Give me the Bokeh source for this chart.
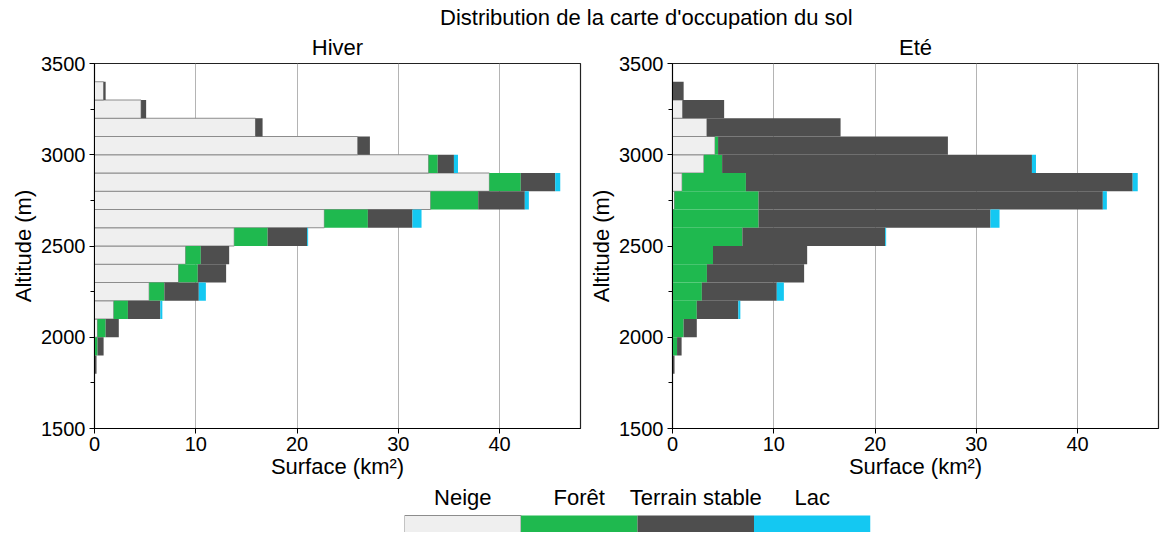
from bokeh.plotting import figure
from bokeh.layouts import column, row
from bokeh.models import Range1d, FactorRange, FixedTicker, ColumnDataSource, Label
from bokeh.embed import file_html
from bokeh.resources import INLINE
from bokeh.core.properties import value

FONT = "Liberation Sans"

# ---- data ----
altitude_bins = [1700, 1800, 1900, 2000, 2100, 2200, 2300, 2400, 2500,
                 2600, 2700, 2800, 2900, 3000, 3100, 3200, 3300]
bin_size = 100

classes = ["Neige", "Forêt", "Terrain stable", "Lac"]
class_colors = ["#efefef", "#1fb94f", "#4e4e4e", "#14c8f2"]
neige_edge = "#8c8c8c"

hiver_neige   = [0, 0, 0, 0.3, 1.9, 5.4, 8.3, 9.0, 13.8, 22.7, 33.2, 39.0, 33.0, 26.0, 15.9, 4.6, 0.9]
hiver_foret   = [0, 0, 0.3, 0.8, 1.4, 1.5, 1.9, 1.5, 3.3, 4.3, 4.7, 3.1, 0.9, 0, 0, 0, 0]
hiver_terrain = [0.05, 0.2, 0.6, 1.3, 3.2, 3.4, 2.8, 2.8, 3.9, 4.4, 4.6, 3.4, 1.6, 1.2, 0.7, 0.5, 0.2]
hiver_lac     = [0, 0, 0, 0, 0.2, 0.7, 0, 0, 0.1, 0.9, 0.4, 0.5, 0.4, 0, 0, 0, 0]

ete_neige   = [0, 0, 0, 0, 0, 0, 0, 0, 0, 0, 0.2, 0.95, 3.1, 4.2, 3.4, 1.0, 0]
ete_foret   = [0, 0, 0.45, 1.1, 2.4, 2.9, 3.4, 4.0, 6.9, 8.5, 8.3, 6.3, 1.8, 0.3, 0, 0, 0]
ete_terrain = [0.05, 0.2, 0.45, 1.3, 4.1, 7.4, 9.6, 9.3, 14.1, 22.9, 34.0, 38.2, 30.6, 22.7, 13.2, 4.1, 1.1]
ete_lac     = [0, 0, 0, 0, 0.2, 0.7, 0, 0, 0.1, 0.9, 0.4, 0.5, 0.4, 0, 0, 0, 0]

x_ticks = [0, 10, 20, 30, 40]
y_ticks = [1500, 2000, 2500, 3000, 3500]
y_minor_ticks = [1750, 2250, 2750, 3250]
x_max = 48
y_min, y_max = 1500, 3500

suptitle = "Distribution de la carte d'occupation du sol"

FRAME_H = 364
TITLE_PANEL = 35
BORDER_BOTTOM = 54


def make_panel(title, neige, foret, terrain, lac, width, bl, br):
    src = ColumnDataSource(dict(
        alt=[a + bin_size / 2 for a in altitude_bins],
        neige=neige, foret=foret, terrain=terrain, lac=lac))
    p = figure(width=width, height=TITLE_PANEL + FRAME_H + BORDER_BOTTOM,
               x_range=Range1d(0, x_max),
               y_range=Range1d(y_min, y_max), toolbar_location=None,
               output_backend="svg", min_border_left=bl, min_border_right=br,
               min_border_top=10, min_border_bottom=BORDER_BOTTOM)
    p.hbar_stack(["neige", "foret", "terrain", "lac"], y="alt", height=bin_size,
                 source=src, fill_color=class_colors,
                 line_color=[neige_edge, None, None, None], line_width=1)
    p.title.text = title
    p.title.align = "center"
    p.title.text_font = FONT
    p.title.text_font_size = "22px"
    p.title.text_font_style = "normal"
    p.title.text_color = "black"
    p.title.standoff = 7
    p.outline_line_color = "#222222"
    p.outline_line_width = 1.2
    p.ygrid.grid_line_color = None
    p.xgrid.ticker = FixedTicker(ticks=x_ticks)
    p.xgrid.grid_line_color = "#b4b4b4"
    p.xgrid.grid_line_width = 1
    p.xaxis.ticker = FixedTicker(ticks=x_ticks)
    p.yaxis.ticker = FixedTicker(ticks=y_ticks, minor_ticks=y_minor_ticks)
    p.xaxis.axis_label = "Surface (km²)"
    p.yaxis.axis_label = "Altitude (m)"
    for ax in (p.xaxis, p.yaxis):
        ax.major_label_text_font = FONT
        ax.major_label_text_font_size = "20px"
        ax.major_label_text_color = "black"
        ax.axis_label_text_font = FONT
        ax.axis_label_text_font_size = "22px"
        ax.axis_label_text_font_style = "normal"
        ax.axis_label_text_color = "black"
        ax.axis_label_standoff = 0
        ax.major_label_standoff = 3
        ax.major_tick_out = 5
        ax.major_tick_in = 0
        ax.minor_tick_out = 4
        ax.minor_tick_in = 0
        ax.axis_line_color = "black"
        ax.major_tick_line_color = "black"
        ax.minor_tick_line_color = "black"
    p.yaxis.major_label_standoff = 4
    p.yaxis.axis_label_standoff = 2
    return p


p1 = make_panel("Hiver", hiver_neige, hiver_foret, hiver_terrain, hiver_lac, 586, 94, 6)
p2 = make_panel("Eté", ete_neige, ete_foret, ete_terrain, ete_lac, 574, 86, 2)

# super title
top_h = 29
top = figure(width=1160, height=top_h, x_range=Range1d(0, 1160), y_range=Range1d(0, top_h),
             toolbar_location=None, output_backend="svg", x_axis_location=None,
             y_axis_location=None, min_border=0)
top.outline_line_color = None
top.grid.visible = False
top.add_layout(Label(x=602, y=top_h - 17, text=suptitle, text_align="center",
                     text_baseline="middle", text_font=FONT, text_font_size="22px",
                     text_color="black"))

# legend colour bar
leg_h = 50
leg = figure(width=1160, height=leg_h, x_range=FactorRange(*classes),
             y_range=Range1d(0, leg_h / 17), toolbar_location=None,
             output_backend="svg", x_axis_location=None, y_axis_location=None,
             min_border_left=404, min_border_right=290, min_border_top=0,
             min_border_bottom=0)
leg.outline_line_color = None
leg.grid.visible = False
leg.vbar(x=classes, top=1, bottom=0, width=1, fill_color=class_colors,
         line_color=[neige_edge, None, None, None], line_width=1)
leg.text(x=classes, y=[(leg_h - 15) / 17] * len(classes), text=classes,
         text_align="center", text_baseline="middle", text_font=value(FONT),
         text_font_size="22px", text_color="black")

layout = column(top, row(p1, p2), leg)
open("out.html", "w").write(file_html(layout, INLINE))
